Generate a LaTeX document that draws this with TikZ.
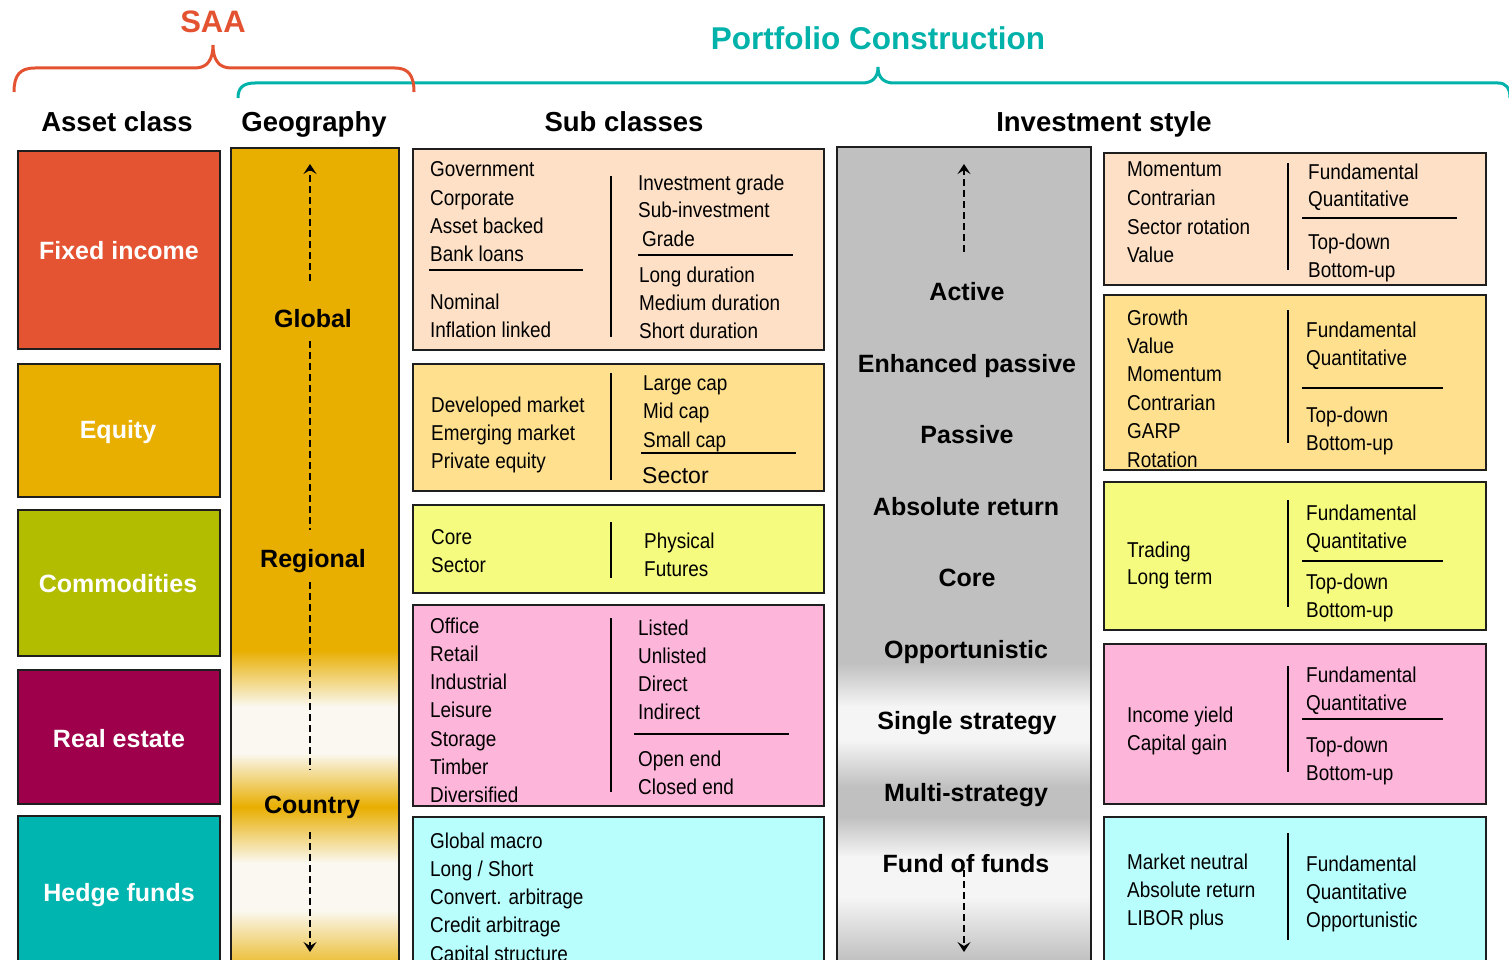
\documentclass[tikz,border=0pt]{standalone}
\usepackage{fontspec}
\setmainfont{Liberation Sans}
\newfontfamily\narrowfont{Liberation Sans}[FakeStretch=0.88]
\usetikzlibrary{arrows.meta}
\definecolor{saac}{RGB}{228,83,49}
\definecolor{pcc}{RGB}{0,178,169}
\definecolor{fic}{RGB}{228,83,50}
\definecolor{eqc}{RGB}{232,174,0}
\definecolor{coc}{RGB}{179,189,0}
\definecolor{rec}{RGB}{158,0,75}
\definecolor{hfc}{RGB}{0,180,175}
\definecolor{peach}{RGB}{253,224,197}
\definecolor{lorange}{RGB}{254,224,143}
\definecolor{lyellow}{RGB}{245,251,126}
\definecolor{lpink}{RGB}{253,181,218}
\definecolor{lcyan}{RGB}{184,254,252}
\definecolor{greyc}{RGB}{192,192,192}
\definecolor{cream}{RGB}{250,248,241}
\definecolor{paleg}{RGB}{245,245,245}
\definecolor{bordc}{RGB}{30,30,30}
\newcommand\stack[5]{\foreach \t [count=\i] in {#5} {\node[txt] (#1-\i) at (#2,{#3+#4*(\i-1)}) {\t};}}
\begin{document}
\begin{tikzpicture}[x=1pt,y=-1pt,
  txt/.style={font=\narrowfont\fontsize{21.5}{28}\selectfont, anchor=base west, inner sep=0pt},
  box/.style={draw=bordc, line width=1.5pt},
  sep/.style={line width=1.5pt, black},
  lab/.style={font=\bfseries\fontsize{25}{30}\selectfont, anchor=base, inner sep=0pt},
  wlab/.style={lab, text=white},
  hdr/.style={font=\bfseries\fontsize{27.5}{32}\selectfont, anchor=base, inner sep=0pt},
  dline/.style={line width=1.6pt, dash pattern=on 7pt off 4pt},
  darrow/.style={dline, -{Stealth[length=10pt,width=13pt,inset=4pt]}}]
\useasboundingbox (0,0) rectangle (1509,960);
\clip (0,0) rectangle (1509,960);

% braces
\draw[pcc, line width=3pt] (238,98) .. controls (238,88) and (243,83) .. (255,83) -- (862,83) .. controls (872,83) and (878,78) .. (878,67) .. controls (878,78) and (884,83) .. (894,83) -- (1498,83) .. controls (1506,83) and (1510,88) .. (1510,98);
\draw[saac, line width=3pt] (14,92) .. controls (14,75) and (20,68) .. (35,68) -- (195,68) .. controls (207,68) and (213,60) .. (213,45) .. controls (213,60) and (219,68) .. (231,68) -- (395,68) .. controls (408,68) and (414,75) .. (414,92);
\node[font=\bfseries\fontsize{31}{36}\selectfont, text=saac, anchor=base, inner sep=0pt] (saa) at (213,33) {SAA};
\node[font=\bfseries\fontsize{31.5}{36}\selectfont, text=pcc, anchor=base, inner sep=0pt] (pc) at (878,50) {Portfolio Construction};

% headers
\node[hdr] (h1) at (117,132) {Asset class};
\node[hdr] (h2) at (314,132) {Geography};
\node[hdr] (h3) at (624,132) {Sub classes};
\node[hdr] (h4) at (1104,132) {Investment style};

% asset class boxes
\draw[box, fill=fic] (18,151) rectangle (220,349);
\draw[box, fill=eqc] (18,364) rectangle (220,497);
\draw[box, fill=coc] (18,510) rectangle (220,656);
\draw[box, fill=rec] (18,670) rectangle (220,804);
\draw[box, fill=hfc] (18,816) rectangle (220,975);
\node[wlab] (fi) at (119,259) {Fixed income};
\node[wlab] (eq) at (118,438) {Equity};
\node[wlab] (co) at (118,592) {Commodities};
\node[wlab] (re) at (119,747) {Real estate};
\node[wlab] (hf) at (119,901) {Hedge funds};

% geography column
\fill[eqc] (231,148) rectangle (399,650);
\fill[top color=eqc, bottom color=cream] (231,650) rectangle (399,707);
\fill[cream] (231,707) rectangle (399,753);
\fill[top color=cream, bottom color=eqc] (231,753) rectangle (399,807);
\fill[top color=eqc, bottom color=cream] (231,807) rectangle (399,863);
\fill[cream] (231,863) rectangle (399,910);
\fill[top color=cream, bottom color=eqc!75!cream] (231,910) rectangle (399,961);
\draw[box] (231,148) rectangle (399,975);
\node[lab] (glob) at (313,327) {Global};
\node[lab] (reg) at (313,567) {Regional};
\node[lab] (ctry) at (312,813) {Country};
\coordinate (gtop) at (310,164);
\coordinate (gbot) at (310,952);
\draw[darrow] (310,281) -- (gtop);
\draw[dline] (310,341) -- (310,530);
\draw[dline] (310,582) -- (310,770);
\draw[darrow] (310,832) -- (gbot);

% sub class boxes
\draw[box, fill=peach] (413,149) rectangle (824,350);
\draw[box, fill=lorange] (413,364) rectangle (824,491);
\draw[box, fill=lyellow] (413,505) rectangle (824,593);
\draw[box, fill=lpink] (413,605) rectangle (824,806);
\draw[box, fill=lcyan] (413,817) rectangle (824,975);

\stack{s1a}{430}{177}{28.3}{Government,Corporate,Asset backed,Bank loans}
\stack{s1b}{430}{309}{28}{Nominal,Inflation linked}
\stack{s1c}{638}{190}{28}{Investment grade,Sub-investment}
\node[txt] (s1d) at (642,246) {Grade};
\stack{s1e}{639}{282}{28}{Long duration,Medium duration,Short duration}
\draw[sep] (611,176) -- (611,337);
\draw[sep] (429,270) -- (583,270);
\draw[sep] (638,255) -- (793,255);

\stack{s2a}{431}{412}{28}{Developed market,Emerging market,Private equity}
\stack{s2b}{643}{390}{28.5}{Large cap,Mid cap,Small cap}
\node[font=\fontsize{23}{28}\selectfont, anchor=base west, inner sep=0pt] (s2c) at (642,483) {Sector};
\draw[sep] (611,373) -- (611,480);
\draw[sep] (641,453) -- (796,453);

\stack{s3a}{431}{544}{28}{Core,Sector}
\stack{s3b}{644}{548}{28.5}{Physical,Futures}
\draw[sep] (611,522) -- (611,578);

\stack{s4a}{430}{633}{28.3}{Office,Retail,Industrial,Leisure,Storage,Timber,Diversified}
\stack{s4b}{638}{635}{28}{Listed,Unlisted,Direct,Indirect}
\stack{s4c}{638}{766}{28}{Open end,Closed end}
\draw[sep] (611,618) -- (611,792);
\draw[sep] (634,734) -- (789,734);

\stack{s5a}{430}{848}{28.25}{Global macro,Long / Short,Convert. arbitrage,Credit arbitrage,Capital structure}

% investment style column
\fill[greyc] (837,147) rectangle (1091,663);
\fill[top color=greyc, bottom color=paleg] (837,663) rectangle (1091,707);
\fill[paleg] (837,707) rectangle (1091,740);
\fill[top color=paleg, bottom color=greyc] (837,740) rectangle (1091,787);
\fill[greyc] (837,787) rectangle (1091,817);
\fill[top color=greyc, bottom color=paleg] (837,817) rectangle (1091,857);
\fill[paleg] (837,857) rectangle (1091,897);
\fill[top color=paleg, bottom color=greyc] (837,897) rectangle (1091,961);
\draw[box] (837,147) rectangle (1091,975);
\node[lab] (st1) at (967,300) {Active};
\node[lab] (st2) at (967,372) {Enhanced passive};
\node[lab] (st3) at (967,443) {Passive};
\node[lab] (st4) at (966,515) {Absolute return};
\node[lab] (st5) at (967,586) {Core};
\node[lab] (st6) at (966,658) {Opportunistic};
\node[lab] (st7) at (967,729) {Single strategy};
\node[lab] (st8) at (966,801) {Multi-strategy};
\node[lab] (st9) at (966,872) {Fund of funds};
\coordinate (itop) at (964,164);
\coordinate (ibot) at (964,952);
\draw[darrow] (964,252) -- (itop);
\draw[darrow] (964,870) -- (ibot);

% style boxes
\draw[box, fill=peach] (1104,153) rectangle (1486,285);
\draw[box, fill=lorange] (1104,295) rectangle (1486,470);
\draw[box, fill=lyellow] (1104,482) rectangle (1486,630);
\draw[box, fill=lpink] (1104,644) rectangle (1486,804);
\draw[box, fill=lcyan] (1104,817) rectangle (1486,975);

\stack{r1a}{1127}{177}{28.6}{Momentum,Contrarian,Sector rotation,Value}
\stack{r1b}{1308}{179}{28}{Fundamental,Quantitative}
\stack{r1c}{1308}{249}{28}{Top-down,Bottom-up}
\draw[sep] (1288,163) -- (1288,270);
\draw[sep] (1302,218) -- (1457,218);

\stack{r2a}{1127}{325}{28.4}{Growth,Value,Momentum,Contrarian,GARP,Rotation}
\stack{r2b}{1306}{337}{28}{Fundamental,Quantitative}
\stack{r2c}{1306}{422}{28}{Top-down,Bottom-up}
\draw[sep] (1288,310) -- (1288,443);
\draw[sep] (1302,388) -- (1443,388);

\stack{r3a}{1127}{557}{27.5}{Trading,Long term}
\stack{r3b}{1306}{520}{28}{Fundamental,Quantitative}
\stack{r3c}{1306}{589}{28}{Top-down,Bottom-up}
\draw[sep] (1288,500) -- (1288,607);
\draw[sep] (1302,561) -- (1443,561);

\stack{r4a}{1127}{722}{28}{Income yield,Capital gain}
\stack{r4b}{1306}{682}{28}{Fundamental,Quantitative}
\stack{r4c}{1306}{752}{28}{Top-down,Bottom-up}
\draw[sep] (1288,666) -- (1288,772);
\draw[sep] (1302,719) -- (1443,719);

\stack{r5a}{1127}{869}{28}{Market neutral,Absolute return,LIBOR plus}
\stack{r5b}{1306}{871}{28}{Fundamental,Quantitative,Opportunistic}
\draw[sep] (1288,833) -- (1288,940);
\end{tikzpicture}
\end{document}
